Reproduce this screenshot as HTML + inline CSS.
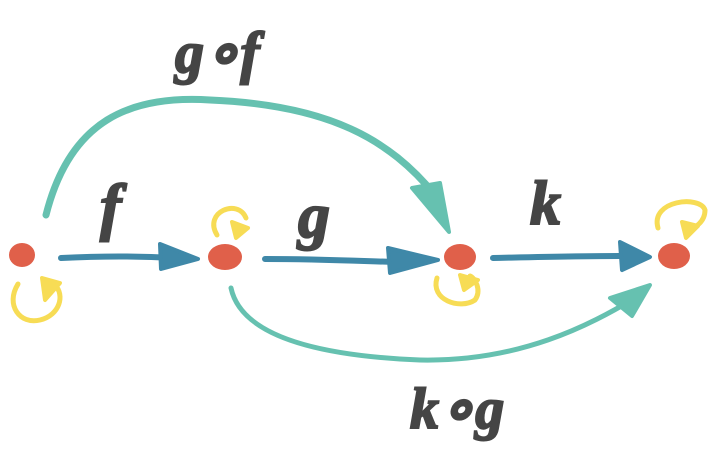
<!DOCTYPE html>
<html><head><meta charset="utf-8"><style>
html,body{margin:0;padding:0;background:#fff;width:715px;height:459px;overflow:hidden}
text{font-family:"Liberation Serif",serif;font-style:italic;font-weight:bold;fill:#454545;stroke:#454545;stroke-width:2}
</style></head><body>
<svg width="715" height="459" viewBox="0 0 715 459" xmlns="http://www.w3.org/2000/svg">
<g fill="none" stroke-linecap="round" stroke-linejoin="round">
<path d="M46 215 C70 120 130 95 210 100 C330 105 390 140 435 195" stroke="#66c1b0" stroke-width="7"/>
<path d="M231 288 C240 330 300 355 420 360 C520 362 590 325 635 298" stroke="#66c1b0" stroke-width="5"/>
<path d="M61 258 C100 256 140 256 175 258" stroke="#3f88a8" stroke-width="6"/>
<path d="M265 259 C320 259 360 261 395 262" stroke="#3f88a8" stroke-width="6"/>
<path d="M493 258 C540 257 580 256 620 256" stroke="#3f88a8" stroke-width="6"/>
<path d="M18 284 C5 305 20 325 40 320 C60 315 65 295 55 285" stroke="#f7dc55" stroke-width="5"/>
<path d="M217 235 C203 212 238 198 246 218" stroke="#f7dc55" stroke-width="5"/>
<path d="M437 278 C430 300 460 310 475 300 C482 290 475 278 470 276" stroke="#f7dc55" stroke-width="5"/>
<path d="M658 228 C650 200 700 195 705 210 C705 222 695 228 688 230" stroke="#f7dc55" stroke-width="5"/>
</g>
<g stroke-linejoin="round" stroke-width="4">
<polygon points="160,244 198,259 161,269" fill="#3f88a8" stroke="#3f88a8"/>
<polygon points="388,248 438,260 390,273" fill="#3f88a8" stroke="#3f88a8"/>
<polygon points="620,242 650,257 622,270" fill="#3f88a8" stroke="#3f88a8"/>
<polygon points="412,188 440,183 449,232" fill="#66c1b0" stroke="#66c1b0"/>
<polygon points="610,298 650,285 632,316" fill="#66c1b0" stroke="#66c1b0"/>
<polygon points="42,278 60,283 45,300" fill="#f7dc55" stroke="#f7dc55"/>
<polygon points="232,222 248,228 236,238" fill="#f7dc55" stroke="#f7dc55"/>
<polygon points="460,275 478,280 464,290" fill="#f7dc55" stroke="#f7dc55"/>
<polygon points="682,222 698,226 686,238" fill="#f7dc55" stroke="#f7dc55"/>
</g>
<g fill="#e0604a">
<ellipse cx="22" cy="255" rx="13" ry="12"/>
<ellipse cx="225" cy="257" rx="17" ry="13"/>
<ellipse cx="460" cy="257" rx="16" ry="13"/>
<ellipse cx="674" cy="256" rx="16" ry="13"/>
</g>
<text x="100" y="228" font-size="64">f</text>
<text x="298" y="237" font-size="64">g</text>
<text x="530" y="224" font-size="62">k</text>
<text x="175" y="72" font-size="58">g∘f</text>
<text x="410" y="428" font-size="58">k∘g</text>
</svg>
</body></html>
